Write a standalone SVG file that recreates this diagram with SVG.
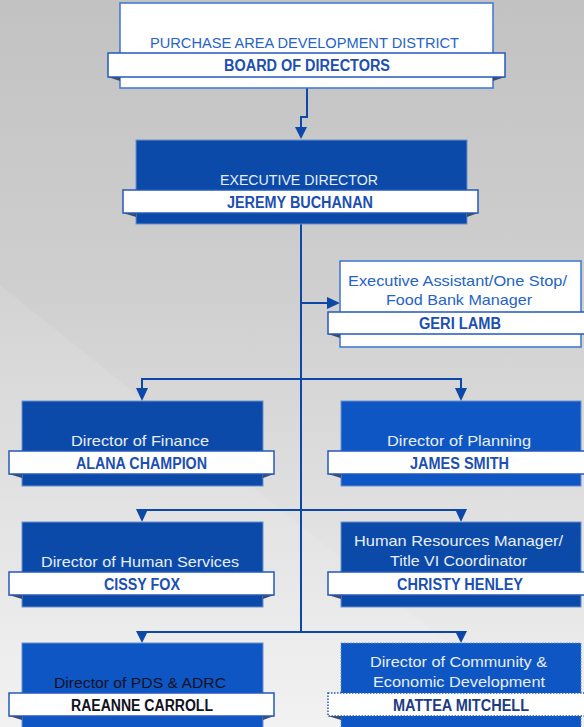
<svg xmlns="http://www.w3.org/2000/svg" width="584" height="727" viewBox="0 0 584 727">
<defs>
<linearGradient id="bg" x1="0" y1="0" x2="0" y2="1">
<stop offset="0" stop-color="#c2c2c2"/>
<stop offset="0.4" stop-color="#cfcfcf"/>
<stop offset="1" stop-color="#f1f1f1"/>
</linearGradient>
<style>
.wbox{fill:#ffffff;stroke:#3d75d2;stroke-width:1.5}
.dbox{fill:#0b4aa9;stroke:#6a8fd0;stroke-width:1}
.lbox{fill:#0e56c4;stroke:#6a8fd0;stroke-width:1}
.ban{fill:#ffffff;stroke:#2458bb;stroke-width:1.5}
.fold{fill:#3e4b66}
.t{font-family:"Liberation Sans",Arial,sans-serif;font-size:15px;text-anchor:middle}
.tw{fill:#e8eef9}
.tb{fill:#2563c9}
.n{font-weight:bold;font-size:16px;fill:#1b4fb3}
.k{fill:#111122}
.conn{fill:none;stroke:#0d47a8;stroke-width:2}
.arr{fill:#0d47a8}
.dot{stroke-dasharray:1.5 1.5}
</style>
</defs>
<rect x="0" y="0" width="584" height="727" fill="url(#bg)"/>
<polygon points="0,285 584,752 0,752" fill="#ffffff" opacity="0.1"/>

<g id="connectors">
<path class="conn" d="M307,88 V117 H301 V128"/>
<polygon class="arr" points="295,127 307,127 301,139"/>
<path class="conn" d="M301,224 V632"/>
<path class="conn" d="M301,303 H328"/>
<polygon class="arr" points="327,297 327,309 340,303"/>
<path class="conn" d="M142,389 V379 H461 V389"/>
<polygon class="arr" points="136,388 148,388 142,401"/>
<polygon class="arr" points="455,388 467,388 461,401"/>
<path class="conn" d="M142,511 V510 H461 V511"/>
<polygon class="arr" points="136,509 148,509 142,522"/>
<polygon class="arr" points="455,509 467,509 461,522"/>
<path class="conn" d="M142,632 H461"/>
<polygon class="arr" points="136,631 148,631 142,643"/>
<polygon class="arr" points="455,631 467,631 461,643"/>
</g>

<g id="board">
<rect class="wbox" x="120" y="3" width="373" height="85"/>
<polygon class="fold" points="108,77 120,77 120,81"/>
<polygon class="fold" points="505,77 493,77 493,81"/>
<rect class="ban" x="108" y="53" width="397" height="24"/>
<text class="t tb" x="304.5" y="48" textLength="309" lengthAdjust="spacingAndGlyphs">PURCHASE AREA DEVELOPMENT DISTRICT</text>
<text class="t n" x="307" y="70.5" textLength="166" lengthAdjust="spacingAndGlyphs">BOARD OF DIRECTORS</text>
</g>

<g id="executive">
<rect class="dbox" x="136" y="140" width="331" height="84"/>
<polygon class="fold" points="123,213 136,213 136,217"/>
<polygon class="fold" points="478,213 467,213 467,217"/>
<rect class="ban" x="123" y="190" width="355" height="23"/>
<text class="t tw" x="299" y="185" textLength="158" lengthAdjust="spacingAndGlyphs">EXECUTIVE DIRECTOR</text>
<text class="t n" x="300" y="207.5" textLength="146" lengthAdjust="spacingAndGlyphs">JEREMY BUCHANAN</text>
</g>

<g id="assistant">
<rect class="wbox" x="340" y="261" width="241" height="86"/>
<polygon class="fold" points="328,334 340,334 340,338"/>
<rect class="ban" x="328" y="312" width="270" height="22"/>
<text class="t tb" x="457.5" y="286" textLength="219" lengthAdjust="spacingAndGlyphs">Executive Assistant/One Stop/</text>
<text class="t tb" x="459" y="305" textLength="146" lengthAdjust="spacingAndGlyphs">Food Bank Manager</text>
<text class="t n" x="460" y="328.5" textLength="82" lengthAdjust="spacingAndGlyphs">GERI LAMB</text>
</g>

<g id="finance">
<rect class="dbox" x="22" y="401" width="241" height="85"/>
<polygon class="fold" points="9,474 22,474 22,478"/>
<polygon class="fold" points="274,474 263,474 263,478"/>
<rect class="ban" x="9" y="451" width="265" height="23"/>
<text class="t tw" x="140" y="446" textLength="138" lengthAdjust="spacingAndGlyphs">Director of Finance</text>
<text class="t n" x="141.5" y="468.5" textLength="131" lengthAdjust="spacingAndGlyphs">ALANA CHAMPION</text>
</g>

<g id="planning">
<rect class="lbox" x="341" y="401" width="240" height="85"/>
<polygon class="fold" points="328,474 341,474 341,478"/>
<rect class="ban" x="328" y="451" width="270" height="23"/>
<text class="t tw" x="459" y="446" textLength="144" lengthAdjust="spacingAndGlyphs">Director of Planning</text>
<text class="t n" x="459.5" y="468.5" textLength="99" lengthAdjust="spacingAndGlyphs">JAMES SMITH</text>
</g>

<g id="human-services">
<rect class="dbox" x="22" y="522" width="241" height="85"/>
<polygon class="fold" points="9,595 22,595 22,599"/>
<polygon class="fold" points="274,595 263,595 263,599"/>
<rect class="ban" x="9" y="572" width="265" height="23"/>
<text class="t tw" x="140" y="567" textLength="198" lengthAdjust="spacingAndGlyphs">Director of Human Services</text>
<text class="t n" x="142" y="589.5" textLength="76" lengthAdjust="spacingAndGlyphs">CISSY FOX</text>
</g>

<g id="human-resources">
<rect class="dbox" x="341" y="522" width="240" height="85"/>
<polygon class="fold" points="328,595 341,595 341,599"/>
<rect class="ban" x="328" y="572" width="270" height="23"/>
<text class="t tw" x="458.5" y="546" textLength="209" lengthAdjust="spacingAndGlyphs">Human Resources Manager/</text>
<text class="t tw" x="458.5" y="566" textLength="137" lengthAdjust="spacingAndGlyphs">Title VI Coordinator</text>
<text class="t n" x="460" y="589.5" textLength="126" lengthAdjust="spacingAndGlyphs">CHRISTY HENLEY</text>
</g>

<g id="pds-adrc">
<rect class="lbox" x="22" y="643" width="241" height="95"/>
<polygon class="fold" points="9,716 22,716 22,720"/>
<polygon class="fold" points="274,716 263,716 263,720"/>
<rect class="ban" x="9" y="693" width="265" height="23"/>
<text class="t k" x="140" y="688" textLength="172" lengthAdjust="spacingAndGlyphs">Director of PDS &amp; ADRC</text>
<text class="t n k" x="142" y="710.5" textLength="142" lengthAdjust="spacingAndGlyphs">RAEANNE CARROLL</text>
</g>

<g id="community">
<rect class="lbox dot" x="341" y="643" width="240" height="95"/>
<polygon class="fold" points="328,716 341,716 341,720"/>
<rect class="ban dot" x="328" y="693" width="270" height="23"/>
<text class="t tw" x="458.5" y="667" textLength="177" lengthAdjust="spacingAndGlyphs">Director of Community &amp;</text>
<text class="t tw" x="459" y="687" textLength="172" lengthAdjust="spacingAndGlyphs">Economic Development</text>
<text class="t n" x="461" y="710.5" textLength="136" lengthAdjust="spacingAndGlyphs" style="fill:#1a3c85">MATTEA MITCHELL</text>
</g>
</svg>
